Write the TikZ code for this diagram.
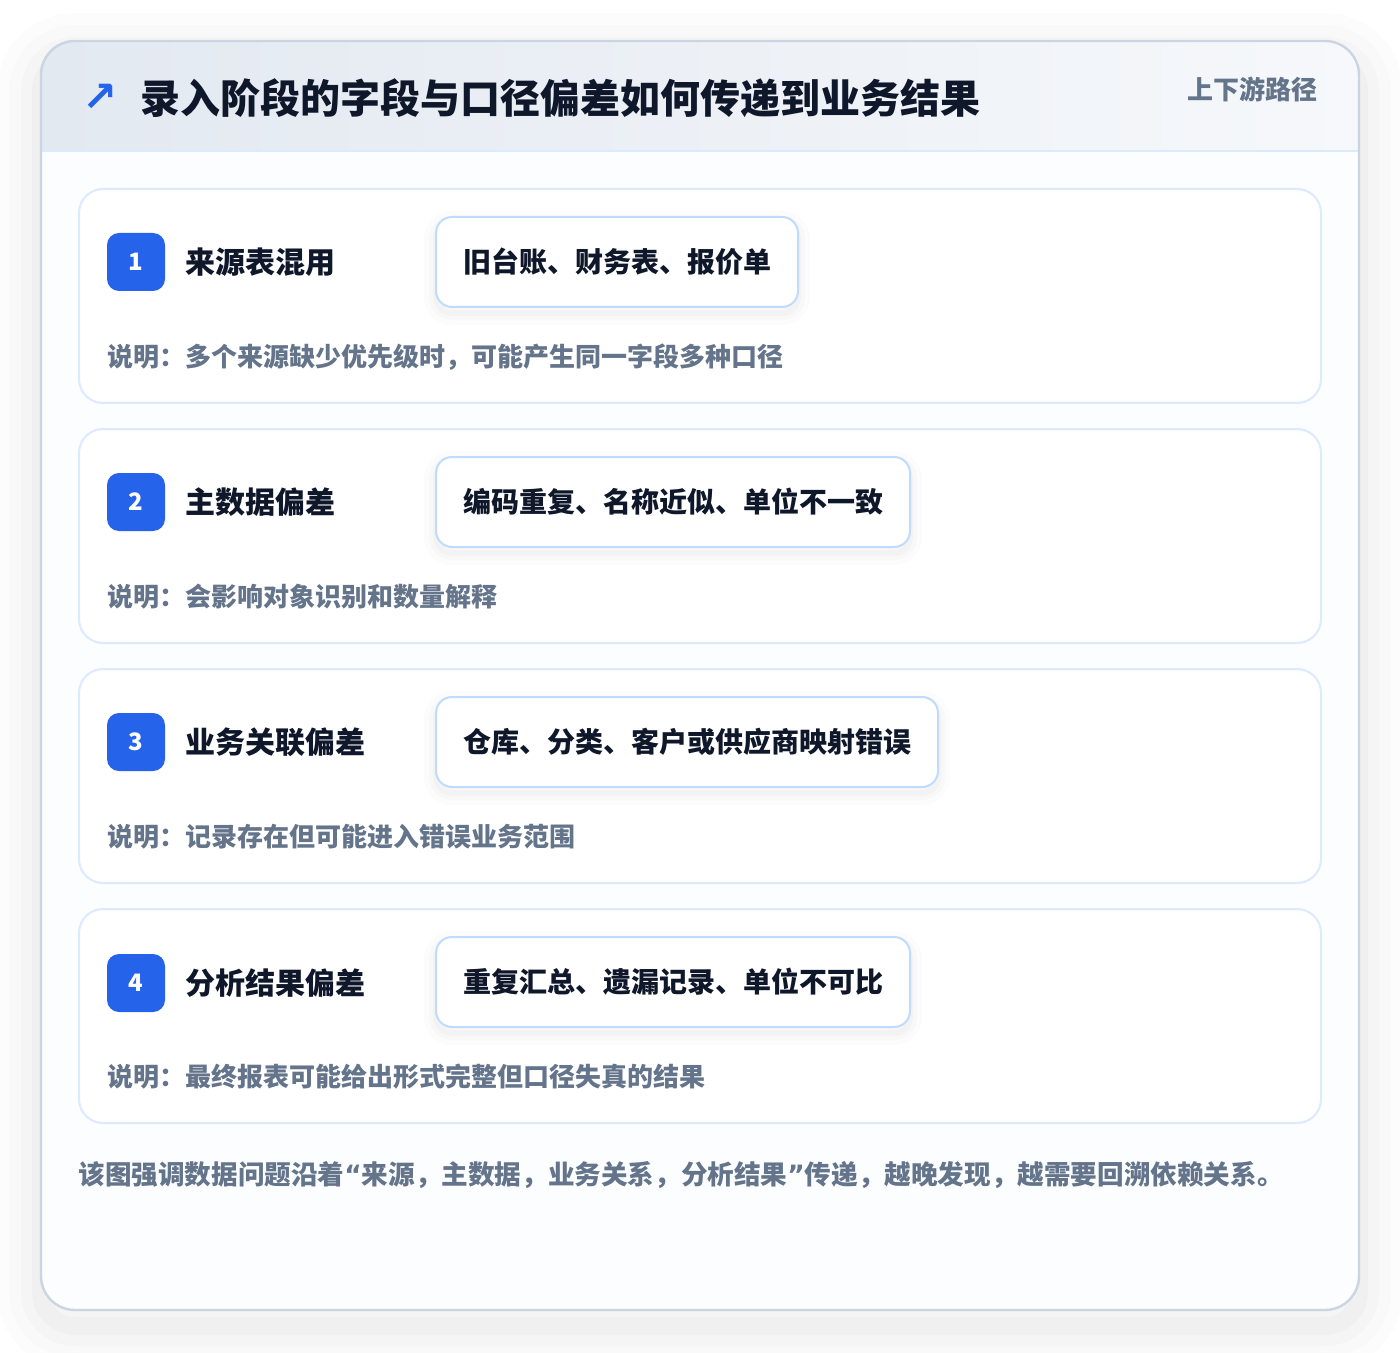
\documentclass[tikz,border=0pt]{standalone}
\usepackage{fontspec}
\setmainfont{Noto Sans CJK SC}
\newfontfamily\symfont{DejaVu Sans}
\usetikzlibrary{positioning}
\definecolor{ink}{HTML}{0F172A}
\definecolor{muted}{HTML}{64748B}
\definecolor{accent}{HTML}{2563EB}
\definecolor{cardline}{HTML}{DBEAFE}
\definecolor{chipline}{HTML}{BFDBFE}
\definecolor{frameline}{HTML}{CBD5E1}
\definecolor{headleft}{HTML}{E3E9F1}
\definecolor{headright}{HTML}{F6F8FB}
\definecolor{bodybg}{HTML}{FCFDFE}

\begin{document}
\begin{tikzpicture}[x=0.5pt, y=-0.5pt,
    card/.style = {draw=cardline, line width=1pt, fill=white, rounded corners=12pt,
        minimum width=621pt, minimum height=107pt, inner sep=0pt},
    badge/.style = {fill=accent, rounded corners=6pt, minimum size=29pt, inner sep=0pt,
        text=white, font=\bfseries\fontsize{12}{14}\selectfont},
    item/.style = {text=ink, inner sep=0pt, font=\bfseries\fontsize{15}{18}\selectfont},
    chip/.style = {draw=chipline, line width=1pt, fill=white, rounded corners=8pt,
        minimum height=45pt, inner xsep=13.5pt, inner ysep=0pt, anchor=west,
        text=ink, font=\bfseries\fontsize{14}{17}\selectfont,
        preaction={draw=black, draw opacity=.012, line width=12pt, transform canvas={yshift=-3pt}},
        preaction={draw=black, draw opacity=.015, line width=7pt, transform canvas={yshift=-3pt}},
        preaction={draw=black, draw opacity=.02, line width=3pt, transform canvas={yshift=-3pt}}},
    note/.style = {text=muted, inner sep=0pt, font=\bfseries\fontsize{13}{16}\selectfont}]
    \useasboundingbox[fill=white] (0,0) rectangle (1400,1352);

    % outer panel with header band
    \path[fill=bodybg, rounded corners=17pt,
        preaction={draw=black, draw opacity=.010, line width=44pt, transform canvas={yshift=-8pt}},
        preaction={draw=black, draw opacity=.012, line width=32pt, transform canvas={yshift=-8pt}},
        preaction={draw=black, draw opacity=.015, line width=20pt, transform canvas={yshift=-8pt}},
        preaction={draw=black, draw opacity=.02, line width=9pt, transform canvas={yshift=-8pt}}]
        (41,41) rectangle (1359,1310);
    \begin{scope}
        \clip[rounded corners=17pt] (41,41) rectangle (1359,1310);
        \shade[left color=headleft, right color=headright] (41,41) rectangle (1359,151);
    \end{scope}
    \draw[cardline, line width=1pt] (41,151) -- (1359,151);
    \draw[frameline, line width=1.2pt, rounded corners=17pt] (41,41) rectangle (1359,1310);

    \node[anchor=west, inner sep=0pt, text=ink, font=\bfseries\fontsize{20}{24}\selectfont]
        (title) at (140,98) {录入阶段的字段与口径偏差如何传递到业务结果};
    \node[left=11pt of title, inner sep=0pt, text=accent, font=\symfont\bfseries\fontsize{21}{24}\selectfont]
        (icon) {↗};
    \node[note, anchor=east] (tag) at (1318,89) {上下游路径};

    % stage 1
    \node[card] (card1) at (700,296) {};
    \node[badge] (b1) at (136,262) {1};
    \node[item, right=10pt of b1] (t1) {来源表混用};
    \node[chip] (c1) at (435,262) {旧台账、财务表、报价单};
    \node[note, anchor=west] (n1) at (107,357) {说明：多个来源缺少优先级时，可能产生同一字段多种口径};

    % stage 2
    \node[card] (card2) at (700,536) {};
    \node[badge] (b2) at (136,502) {2};
    \node[item, right=10pt of b2] (t2) {主数据偏差};
    \node[chip] (c2) at (435,502) {编码重复、名称近似、单位不一致};
    \node[note, anchor=west] (n2) at (107,597) {说明：会影响对象识别和数量解释};

    % stage 3
    \node[card] (card3) at (700,776) {};
    \node[badge] (b3) at (136,742) {3};
    \node[item, right=10pt of b3] (t3) {业务关联偏差};
    \node[chip] (c3) at (435,742) {仓库、分类、客户或供应商映射错误};
    \node[note, anchor=west] (n3) at (107,837) {说明：记录存在但可能进入错误业务范围};

    % stage 4
    \node[card] (card4) at (700,1016) {};
    \node[badge] (b4) at (136,983) {4};
    \node[item, right=10pt of b4] (t4) {分析结果偏差};
    \node[chip] (c4) at (435,982) {重复汇总、遗漏记录、单位不可比};
    \node[note, anchor=west] (n4) at (107,1077) {说明：最终报表可能给出形式完整但口径失真的结果};

    \node[note, anchor=west, font=\bfseries\fontsize{13.3}{16}\selectfont] (summary) at (78,1175)
        {该图强调数据问题沿着{\symfont “}来源，主数据，业务关系，分析结果{\symfont ”}传递，越晚发现，越需要回溯依赖关系。};
\end{tikzpicture}
\end{document}
